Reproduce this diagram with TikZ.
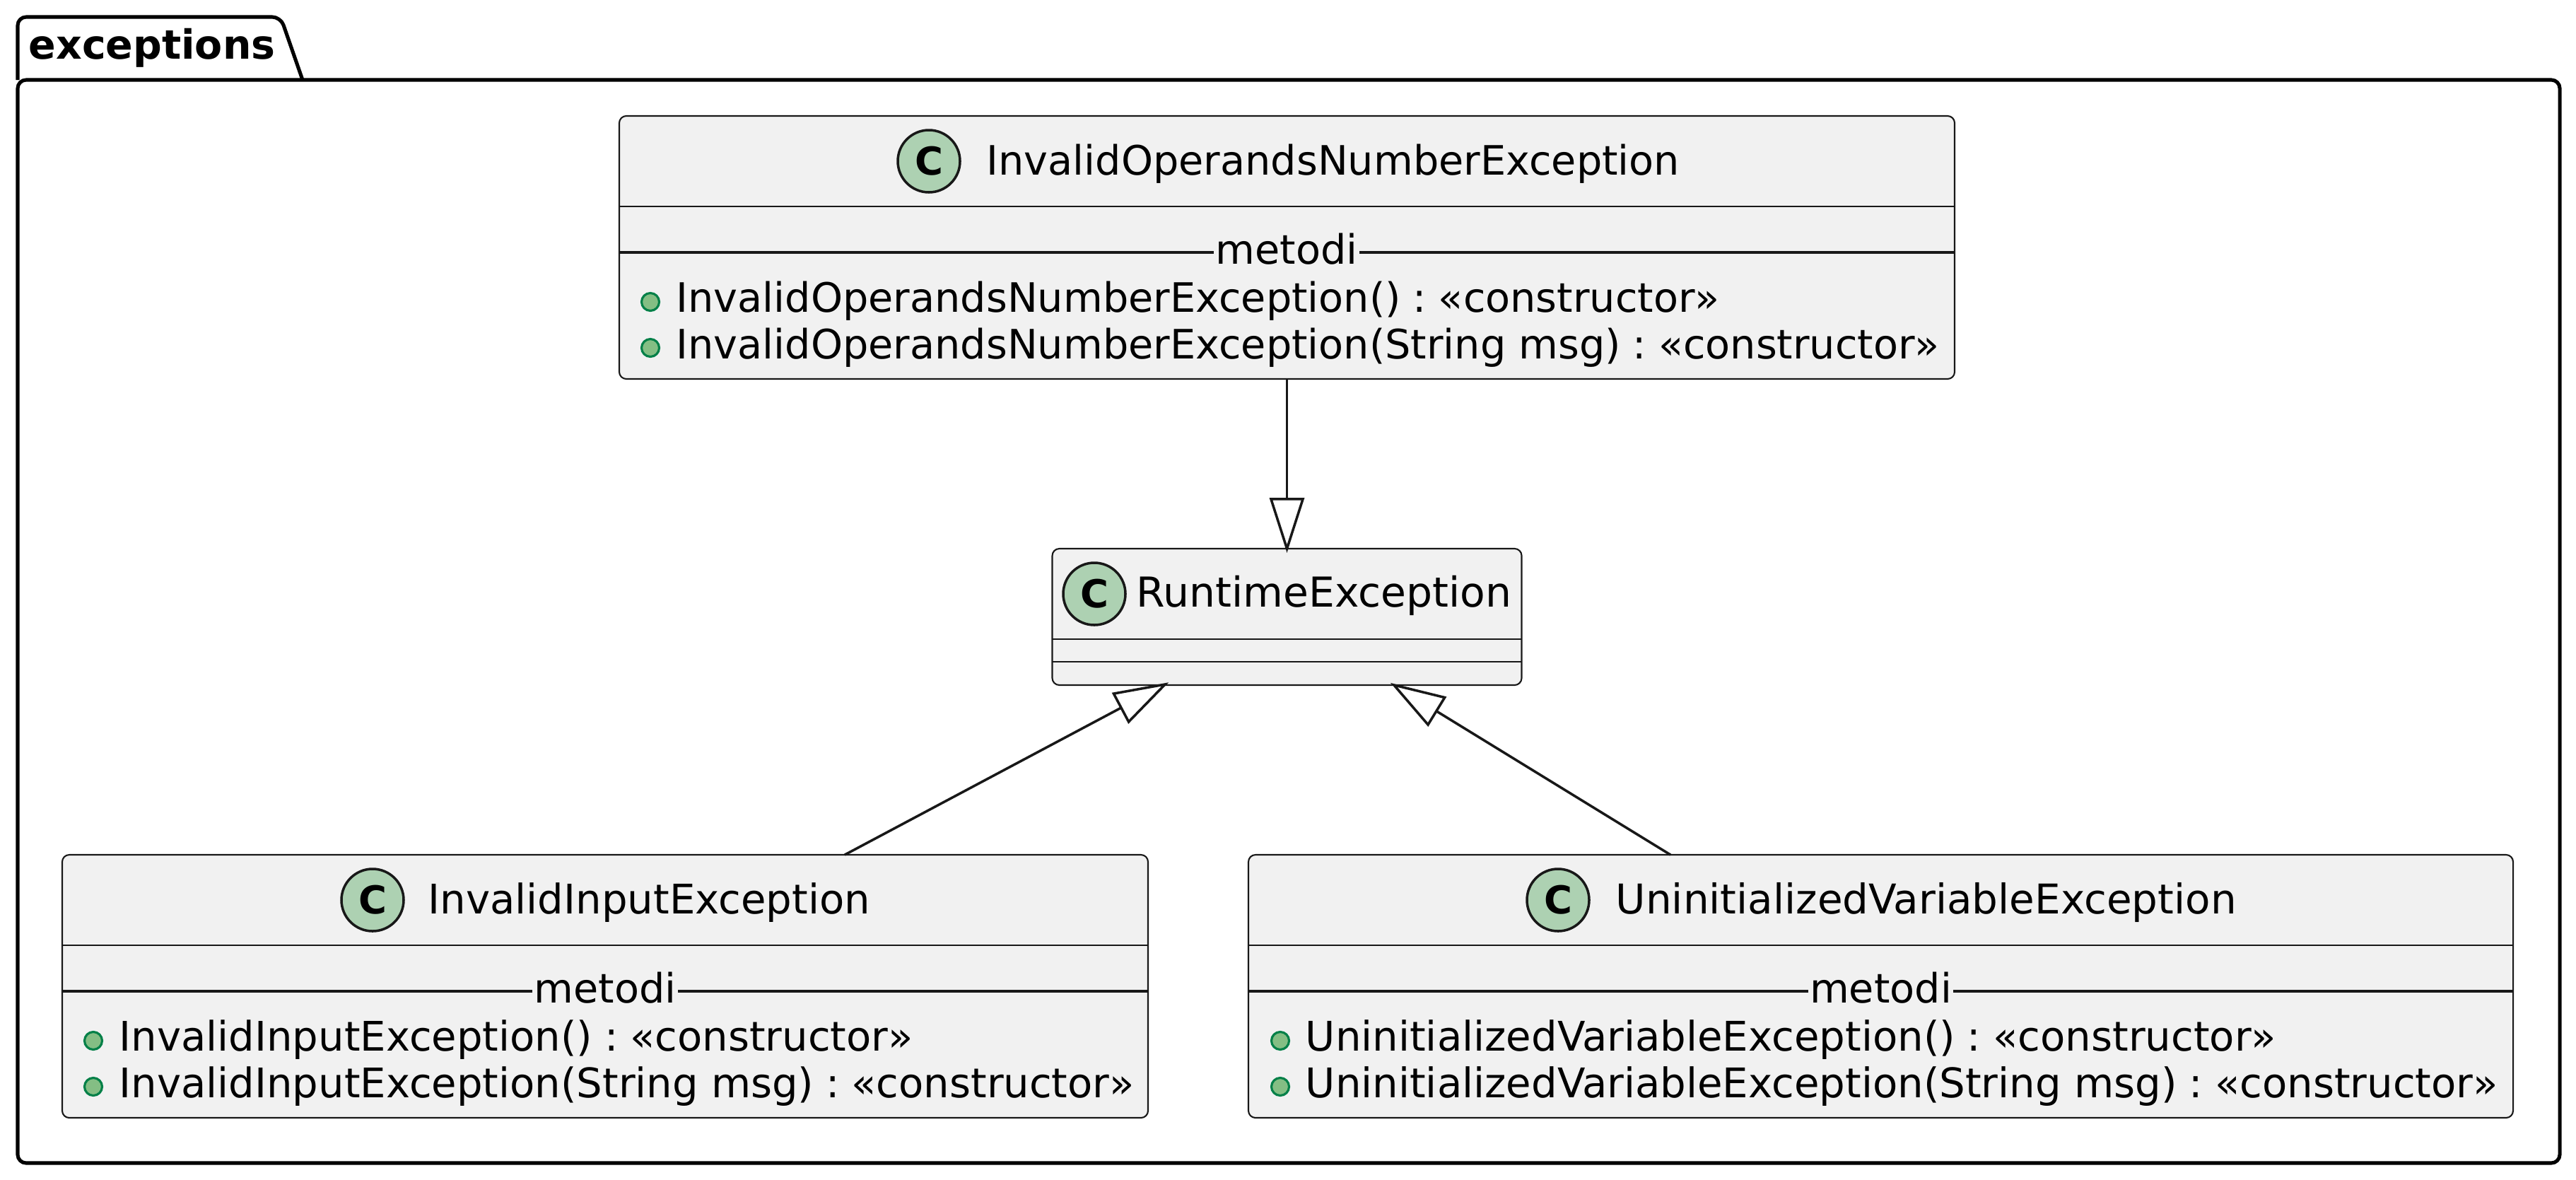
\documentclass[tikz,border=0pt]{standalone}
\usepackage{fontspec}
\setmainfont{DejaVu Sans}
\usepackage{tikz}
\usetikzlibrary{arrows.meta,positioning,calc}
\definecolor{boxgray}{HTML}{F1F1F1}
\definecolor{edgeblack}{HTML}{181818}
\definecolor{spotgreen}{HTML}{ADD1B2}
\definecolor{dotgreen}{HTML}{84BE84}
\definecolor{dotedge}{HTML}{038048}
\newcommand{\ctor}{\hspace{4.8pt}:\hspace{4.8pt}«constructor»}

\begin{document}
\begin{tikzpicture}[
  y=-1cm,
  >={Triangle[open,fill=white,length=7.8mm,width=4.9mm]},
  classbox/.style={draw=edgeblack, fill=boxgray, rounded corners=1mm, line width=0.6pt, inner sep=0pt, outer sep=0pt, minimum height=3.72cm},
  spot/.style={circle, draw=edgeblack, fill=spotgreen, line width=1pt, minimum size=0.88cm, inner sep=0pt, font=\fontsize{15.5pt}{15.5pt}\selectfont\bfseries},
  dot/.style={circle, draw=dotedge, fill=dotgreen, line width=0.9pt, minimum size=0.25cm, inner sep=0pt},
  textline/.style={anchor=base west, inner sep=0pt, font=\fontsize{#1pt}{#1pt}\selectfont},
  textline/.default=16.3,
  divider/.style={fill=boxgray, anchor=base, inner sep=0.6pt, font=\fontsize{16.3pt}{16.3pt}\selectfont},
  thinrule/.style={draw=edgeblack, line width=0.55pt},
  thickrule/.style={draw=edgeblack, line width=1pt},
  relation/.style={->, draw=edgeblack, line width=1pt, shorten >=-0.6mm}
]
\useasboundingbox (0,0) rectangle (36.44,16.68);

% package frame
\draw[line width=1.45pt, rounded corners=1.2mm, line join=round]
  (0.25,1.13) -- (0.25,0.24) -- (3.97,0.24) -- (4.28,1.13);
\draw[line width=1.45pt, rounded corners=1.2mm] (0.25,1.13) -- (36.21,1.13) -- (36.21,16.45) -- (0.25,16.45) -- cycle;
\node[anchor=base west, inner sep=0pt, font=\fontsize{16.2pt}{16.2pt}\selectfont\bfseries] (pkg) at (0.40,0.83) {exceptions};

% class boxes
\node[classbox, minimum width=18.89cm] (operands) at (18.205,3.50) {};
\node[classbox, minimum width=6.64cm, minimum height=1.93cm] (runtime) at (18.205,8.725) {};
\node[classbox, minimum width=15.36cm] (input) at (8.56,13.95) {};
\node[classbox, minimum width=17.89cm] (uninit) at (26.605,13.95) {};

% operands
\node[spot] (operandsC) at (13.14,2.28) {C};
\node[textline] (operandsT) at (13.95,2.47) {InvalidOperandsNumberException};
\draw[thinrule] (operands.west |- 0,2.92) -- (operands.east |- 0,2.92);
\draw[thickrule] (operands.west |- 0,3.57) -- (operands.east |- 0,3.57);
\node[divider] (operandsM) at (18.20,3.73) {metodi};
\node[dot] (operandsA) at (9.20,4.27) {};
\node[textline] (operandsB) at (9.56,4.41) {InvalidOperandsNumberException()\ctor};
\node[dot] (operandsD) at (9.20,4.92) {};
\node[textline] (operandsE) at (9.56,5.07) {InvalidOperandsNumberException(String msg)\ctor};

% runtime
\node[spot] (runtimeC) at (15.48,8.40) {C};
\node[textline=16.6] (runtimeT) at (16.07,8.58) {RuntimeException};
\draw[thinrule] (runtime.west |- 0,9.04) -- (runtime.east |- 0,9.04);
\draw[thinrule] (runtime.west |- 0,9.36) -- (runtime.east |- 0,9.36);

% input
\node[spot] (inputC) at (5.27,12.73) {C};
\node[textline=16.42] (inputT) at (6.05,12.92) {InvalidInputException};
\draw[thinrule] (input.west |- 0,13.37) -- (input.east |- 0,13.37);
\draw[thickrule] (input.west |- 0,14.02) -- (input.east |- 0,14.02);
\node[divider] (inputM) at (8.56,14.18) {metodi};
\node[dot] (inputA) at (1.32,14.72) {};
\node[textline=16.4] (inputB) at (1.68,14.86) {InvalidInputException()\ctor};
\node[dot] (inputD) at (1.32,15.37) {};
\node[textline=16.4] (inputE) at (1.68,15.52) {InvalidInputException(String msg)\ctor};

% uninitialized
\node[spot] (uninitC) at (22.04,12.73) {C};
\node[textline=16.5] (uninitT) at (22.85,12.92) {UninitializedVariableException};
\draw[thinrule] (uninit.west |- 0,13.37) -- (uninit.east |- 0,13.37);
\draw[thickrule] (uninit.west |- 0,14.02) -- (uninit.east |- 0,14.02);
\node[divider] (uninitM) at (26.605,14.18) {metodi};
\node[dot] (uninitA) at (18.11,14.72) {};
\node[textline=16.43] (uninitB) at (18.46,14.86) {UninitializedVariableException()\ctor};
\node[dot] (uninitD) at (18.11,15.37) {};
\node[textline=16.43] (uninitE) at (18.46,15.52) {UninitializedVariableException(String msg)\ctor};

% generalisations
\coordinate (inputOut) at (11.95,12.09);
\coordinate (inputIn) at (16.48,9.68);
\coordinate (uninitOut) at (23.63,12.09);
\coordinate (uninitIn) at (19.72,9.69);
\draw[relation] (operands.south) -- (runtime.north);
\draw[relation] (inputOut) -- (inputIn);
\draw[relation] (uninitOut) -- (uninitIn);
\end{tikzpicture}
\end{document}
